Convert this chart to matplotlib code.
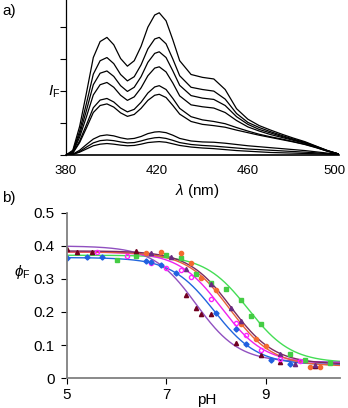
import matplotlib
matplotlib.use("Agg")
import matplotlib.pyplot as plt
import matplotlib.transforms as mtransforms
import numpy as np

plt.rcParams['font.family'] = ['Liberation Sans', 'DejaVu Sans']
plt.rcParams['mathtext.fontset'] = 'custom'
plt.rcParams['mathtext.rm'] = 'Liberation Sans'
plt.rcParams['mathtext.it'] = 'Liberation Sans:italic'

# ---------------- panel a: emission spectra ----------------
wavelength = [380, 383, 386, 389, 392, 395, 398, 401, 404, 407, 410, 413, 416, 419, 421,
              424, 427, 430, 435, 440, 445, 450, 455, 460, 465, 470, 475, 480, 485, 490, 495, 500]
spec1 = [0, 0.15, 0.9, 1.95, 3.05, 3.55, 3.68, 3.45, 3.02, 2.78, 2.95, 3.4, 4.0, 4.38, 4.45,
         4.2, 3.6, 2.95, 2.52, 2.43, 2.38, 2.05, 1.45, 1.12, 0.92, 0.78, 0.65, 0.53, 0.42, 0.28, 0.14, 0.03]
spec2 = [0, 0.12, 0.75, 1.62, 2.53, 2.95, 3.05, 2.86, 2.52, 2.32, 2.45, 2.82, 3.32, 3.63, 3.68,
         3.48, 3.0, 2.48, 2.12, 2.05, 2.0, 1.75, 1.3, 1.02, 0.86, 0.73, 0.61, 0.5, 0.4, 0.27, 0.14, 0.03]
spec3 = [0, 0.11, 0.65, 1.4, 2.2, 2.56, 2.63, 2.46, 2.17, 1.99, 2.12, 2.45, 2.9, 3.18, 3.23,
         3.05, 2.63, 2.18, 1.86, 1.78, 1.74, 1.55, 1.2, 0.96, 0.8, 0.69, 0.58, 0.48, 0.38, 0.26, 0.13, 0.03]
spec4 = [0, 0.09, 0.56, 1.2, 1.88, 2.2, 2.27, 2.12, 1.87, 1.71, 1.82, 2.1, 2.48, 2.72, 2.76,
         2.6, 2.25, 1.85, 1.57, 1.51, 1.47, 1.33, 1.08, 0.88, 0.75, 0.64, 0.55, 0.46, 0.37, 0.25, 0.13, 0.03]
spec5 = [0, 0.07, 0.44, 0.95, 1.48, 1.72, 1.77, 1.66, 1.47, 1.35, 1.43, 1.65, 1.94, 2.13, 2.17,
         2.05, 1.77, 1.46, 1.2, 1.1, 1.05, 0.98, 0.86, 0.75, 0.65, 0.57, 0.5, 0.42, 0.34, 0.24, 0.12, 0.03]
spec6 = [0, 0.06, 0.39, 0.85, 1.33, 1.55, 1.6, 1.5, 1.32, 1.21, 1.27, 1.46, 1.71, 1.87, 1.9,
         1.8, 1.55, 1.28, 1.05, 0.96, 0.92, 0.87, 0.78, 0.7, 0.62, 0.55, 0.48, 0.41, 0.33, 0.23, 0.12, 0.03]
spec7 = [0, 0.03, 0.15, 0.33, 0.5, 0.6, 0.63, 0.6, 0.54, 0.5, 0.52, 0.58, 0.67, 0.72, 0.73,
         0.7, 0.62, 0.52, 0.44, 0.41, 0.4, 0.37, 0.33, 0.29, 0.26, 0.23, 0.2, 0.17, 0.14, 0.1, 0.06, 0.02]
spec8 = [0, 0.02, 0.11, 0.25, 0.38, 0.45, 0.47, 0.45, 0.41, 0.38, 0.39, 0.44, 0.5, 0.54, 0.55,
         0.52, 0.46, 0.39, 0.33, 0.3, 0.28, 0.25, 0.22, 0.19, 0.17, 0.15, 0.13, 0.11, 0.09, 0.07, 0.04, 0.02]
spec9 = [0, 0.02, 0.09, 0.19, 0.29, 0.34, 0.36, 0.34, 0.31, 0.29, 0.3, 0.34, 0.39, 0.41, 0.42,
         0.4, 0.35, 0.3, 0.25, 0.22, 0.2, 0.17, 0.14, 0.12, 0.1, 0.08, 0.07, 0.06, 0.05, 0.04, 0.03, 0.02]
spectra = [spec1, spec2, spec3, spec4, spec5, spec6, spec7, spec8, spec9]
a_xticks = [380, 420, 460, 500]
a_yticks = [0, 1, 2, 3, 4]

# ---------------- panel b: pH titration ----------------
green_pH = [6.0, 6.4, 7.0, 7.3, 7.6, 7.9, 8.2, 8.5, 8.7, 8.9, 9.5, 9.8, 10.3]
green_phi = [0.358, 0.371, 0.373, 0.363, 0.314, 0.289, 0.27, 0.236, 0.189, 0.163, 0.072, 0.055, 0.044]
orange_pH = [6.6, 6.9, 7.3, 7.5, 7.7, 8.0, 8.5, 8.8, 9.0, 9.9, 10.1]
orange_phi = [0.378, 0.383, 0.378, 0.349, 0.302, 0.267, 0.163, 0.118, 0.097, 0.034, 0.034]
maroon_pH = [5.0, 5.2, 5.5, 6.4, 7.4, 7.6, 7.7, 7.9, 8.4, 8.9, 9.3, 10.0]
maroon_phi = [0.39, 0.381, 0.381, 0.385, 0.252, 0.211, 0.194, 0.194, 0.105, 0.07, 0.049, 0.037]
purple_pH = [6.7, 7.1, 7.4, 7.9, 8.3, 8.5, 9.3, 9.6, 10.0]
purple_phi = [0.378, 0.368, 0.329, 0.284, 0.213, 0.174, 0.073, 0.041, 0.039]
magenta_pH = [5.6, 6.2, 6.7, 7.0, 7.3, 7.5, 7.9, 8.4, 8.6, 8.9, 9.3, 9.7]
magenta_phi = [0.381, 0.370, 0.349, 0.334, 0.327, 0.307, 0.238, 0.166, 0.130, 0.085, 0.057, 0.052]
blue_pH = [5.0, 5.4, 5.7, 6.6, 6.7, 6.9, 7.2, 8.0, 8.4, 8.6, 9.1, 9.5]
blue_phi = [0.365, 0.368, 0.368, 0.355, 0.35, 0.342, 0.319, 0.197, 0.148, 0.102, 0.055, 0.041]

# fitted sigmoid parameters (top, bottom, pKa) per series
fit_top = {'green': 0.372, 'orange': 0.382, 'maroon': 0.400, 'purple': 0.385, 'magenta': 0.382, 'blue': 0.365}
fit_bottom = {'green': 0.046, 'orange': 0.036, 'maroon': 0.048, 'purple': 0.042, 'magenta': 0.044, 'blue': 0.040}
fit_pKa = {'green': 8.65, 'orange': 8.28, 'maroon': 7.6, 'purple': 8.31, 'magenta': 8.11, 'blue': 7.97}

b_xticks = [5, 7, 9]
b_yticks = [0, 0.1, 0.2, 0.3, 0.4, 0.5]
b_yticklabels = ['0', '0.1', '0.2', '0.3', '0.4', '0.5']

fig = plt.figure(figsize=(3.48, 4.08), dpi=100)

# ----- panel a -----
axa = fig.add_axes([0.1897, 0.620, 0.784, 0.380])
for s in spectra:
    axa.plot(wavelength, s, color='black', lw=0.9)
axa.set_xlim(380, 500)
axa.set_ylim(0, 4.85)
axa.set_xticks(a_xticks)
axa.set_yticks(a_yticks)
axa.set_yticklabels([])
axa.tick_params(axis='x', length=0, pad=7, labelsize=9.5)
axa.tick_params(axis='y', direction='out', length=4, width=0.8)
for sp in ['top', 'right']:
    axa.spines[sp].set_visible(False)
axa.spines['left'].set_linewidth(0.9)
axa.spines['bottom'].set_linewidth(1.2)
# nudge the last tick label so it stays inside the figure
last_lbl = axa.get_xticklabels()[-1]
last_lbl.set_transform(last_lbl.get_transform() +
                       mtransforms.ScaledTranslation(-4 / 100, 0, fig.dpi_scale_trans))
fig.text(197 / 348, 1 - 191 / 408, r'$\lambda$ (nm)', ha='center', va='center', fontsize=11)
fig.text(54 / 348, 1 - 92 / 408, r'$I_\mathrm{F}$', ha='center', va='center', fontsize=11)
fig.text(2 / 348, 1 - 11 / 408, 'a)', ha='left', va='center', fontsize=11)

# ----- panel b -----
axb = fig.add_axes([0.1925, 0.0735, 0.7845, 0.4045])
ph_grid = np.linspace(5, 10.5, 300)
line_colors = {'green': '#44dd55', 'orange': '#e8603a', 'maroon': '#9050c0',
               'purple': '#7a2a60', 'magenta': '#ee22ee', 'blue': '#2266dd'}
order = ['green', 'maroon', 'blue', 'magenta', 'orange', 'purple']
for k in order:
    y = fit_bottom[k] + (fit_top[k] - fit_bottom[k]) / (1 + 10 ** (ph_grid - fit_pKa[k]))
    axb.plot(ph_grid, y, color=line_colors[k], lw=1.0)

ms = 3.0
axb.plot(green_pH, green_phi, 's', color='#44cc44', ms=ms, mec='#44cc44', ls='none')
axb.plot(orange_pH, orange_phi, 'o', color='#f26a30', ms=ms, ls='none')
axb.plot(maroon_pH, maroon_phi, '^', color='#700020', ms=ms, ls='none')
axb.plot(purple_pH, purple_phi, '^', color='#6a2a80', ms=ms, ls='none')
axb.plot(magenta_pH, magenta_phi, 'o', mfc='none', mec='#ff22ff', mew=1.0, ms=ms, ls='none')
axb.plot(blue_pH, blue_phi, 'D', color='#2060e0', ms=2.6, ls='none')

axb.set_xlim(5, 10.5)
axb.set_ylim(0, 0.5)
axb.set_xticks(b_xticks)
axb.set_yticks(b_yticks)
axb.set_yticklabels(b_yticklabels)
axb.tick_params(axis='both', direction='out', length=4, width=0.8, labelsize=11, colors='black')
axb.tick_params(axis='y', pad=5)
axb.tick_params(axis='x', pad=3)
for sp in ['top', 'right']:
    axb.spines[sp].set_visible(False)
for sp in ['left', 'bottom']:
    axb.spines[sp].set_color('#808080')
    axb.spines[sp].set_linewidth(1.3)
fig.text(207 / 348, 1 - 400 / 408, 'pH', ha='center', va='center', fontsize=11)
fig.text(22 / 348, 1 - 272 / 408, r'$\phi_\mathrm{F}$', ha='center', va='center', fontsize=11)
fig.text(2 / 348, 1 - 198 / 408, 'b)', ha='left', va='center', fontsize=11)

fig.savefig('out.png', dpi=100)
